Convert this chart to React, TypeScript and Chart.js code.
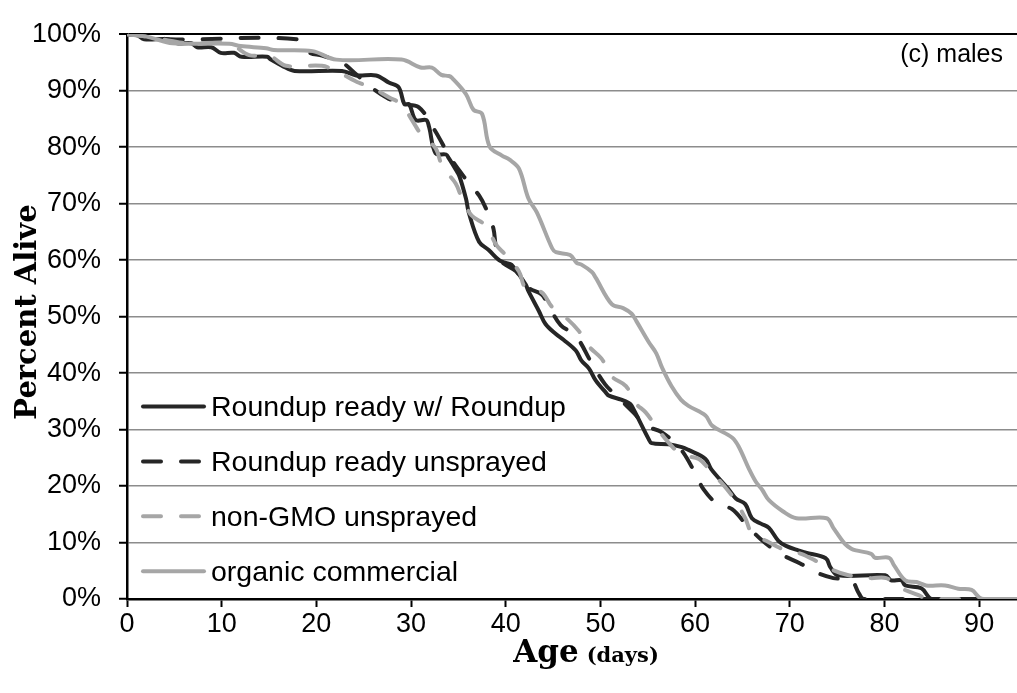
import React, { useEffect, useRef } from "react";
import { Chart, registerables } from "chart.js";

Chart.register(...registerables);

// ---- Data (day, percent alive) ----
const seriesNames = [
  "Roundup ready w/ Roundup",
  "Roundup ready unsprayed",
  "non-GMO unsprayed",
  "organic commercial",
];

const rrRoundup: [number, number][] = [
  [0, 100], [1.1, 99.8], [1.8, 99.1], [4.3, 99.1], [5.3, 98.4], [6.8, 98.4], [7.4, 97.7], [8.9, 97.7],
  [9.9, 96.7], [11.3, 96.7], [12.1, 96.0], [14.8, 96.0], [15.2, 95.5], [16.4, 94.4], [17.7, 93.5],
  [22.7, 93.5], [24.2, 92.7], [26.3, 92.7], [27.7, 91.4], [28.7, 90.6], [29.3, 87.6], [29.8, 87.6],
  [30.5, 84.8], [31.6, 84.8], [31.9, 83.6], [32.6, 78.9], [33.7, 78.7], [34.0, 78.0], [34.7, 76.1],
  [35.1, 74.9], [35.8, 70.9], [36.1, 68.4], [37.2, 63.2], [38.2, 61.8], [39.3, 60.0], [40.0, 59.5],
  [40.6, 59.2], [42.1, 55.7], [42.4, 54.5], [43.5, 51.0], [44.2, 48.7], [45.3, 46.9], [46.1, 45.9],
  [47.4, 44.0], [48.0, 42.2], [48.8, 40.8], [49.5, 38.7], [50.6, 36.5], [50.9, 36.0], [52.2, 35.3],
  [53.0, 34.7], [53.3, 34.2], [55.1, 28.3], [55.4, 27.6], [57.2, 27.4], [58.6, 26.9], [59.3, 26.4],
  [61.1, 24.8], [61.7, 23.0], [63.5, 19.5], [64.3, 17.8], [65.3, 16.8], [66.0, 14.3], [67.0, 13.3],
  [67.8, 12.6], [68.8, 10.3], [69.6, 9.4], [70.9, 8.6], [71.7, 8.2], [73.8, 7.2], [74.3, 5.6],
  [75.1, 4.2], [80.1, 4.2], [80.7, 3.3], [81.8, 3.3], [82.2, 2.4], [83.9, 1.9], [85.0, 0], [90, 0],
];

const rrUnsprayed: [number, number][] = [
  [0, 100], [2, 99.8], [4.5, 99.1], [17.9, 99.1], [19.2, 96.8], [20.6, 96.2], [22.7, 95], [24.2, 92.9],
  [25.8, 90.6], [27.4, 88.8], [29.0, 87.6], [30.8, 87.1], [32.5, 83], [34.2, 78], [35.8, 74.3],
  [37.2, 71.4], [38.0, 68.8], [38.7, 65.6], [39.0, 62.1], [39.6, 59.7], [41.1, 58], [42.4, 55.1],
  [43.8, 53.9], [44.6, 51.7], [45.8, 48.5], [47.4, 46.6], [49, 42], [50.5, 38], [52, 35.5], [53.5, 33],
  [54.8, 30.7], [56.5, 29.5], [58.5, 26.5], [60.1, 22], [60.9, 19.4], [62.3, 16.9], [63.9, 15.9],
  [65.5, 13], [67, 10.5], [69, 8], [71.1, 6.3], [72.8, 4.7], [74.6, 3.7], [76.5, 3.3], [77.3, 1],
  [77.8, 0], [90, 0],
];

const nonGmo: [number, number][] = [
  [0, 100], [2, 99.6], [4.7, 98.8], [6.3, 98.4], [10.8, 98.3], [12.9, 96.3], [15.0, 96.2], [16.8, 94.4],
  [20.6, 94.4], [22.4, 93.2], [24.5, 91.4], [25.8, 90.6], [27.7, 88.8], [29.0, 87.6], [30.1, 84.8],
  [31.1, 82.2], [32.6, 79.8], [33.3, 76.6], [34.7, 73.6], [35.4, 70.9], [36.4, 67.9], [37.9, 66.1],
  [39.0, 62.7], [40.0, 60.9], [41.4, 58.0], [42.1, 55.1], [43.8, 54.3], [44.9, 51.7], [46.3, 49.9],
  [47.7, 47.5], [48.8, 44.7], [50.1, 42.6], [51.2, 39.4], [52.7, 37.7], [53.7, 34.7], [54.8, 33],
  [56.1, 30], [57.2, 27.7], [58.6, 25.5], [60.4, 24.8], [61.7, 22.5], [63.0, 20.2], [64.3, 17.3],
  [65.3, 14.3], [66.0, 11.7], [67.5, 10.3], [69.6, 8.6], [71.2, 8], [72.7, 6.8], [74.6, 5.1],
  [76.2, 4.2], [78.5, 3.7], [80.2, 3.7], [81.8, 1.9], [83.6, 0.7], [84.5, 0], [90, 0],
];

const organic: [number, number][] = [
  [0, 100], [1.5, 99.7], [2.5, 99.4], [4.8, 98.4], [10.8, 98.3], [12.0, 97.9], [14.7, 97.5], [15.5, 97.2],
  [19.6, 97.0], [22.1, 95.5], [29.0, 95.5], [31, 94.1], [32.2, 94.1], [33.2, 92.8], [34.0, 92.6],
  [34.3, 92.3], [35.8, 89.4], [36.6, 86.6], [37.5, 85.9], [38.3, 80.1], [39.6, 78.5], [40.4, 77.8],
  [41.4, 76.2], [42.4, 70.9], [43.3, 68.4], [44.9, 62.1], [45.3, 61.4], [46.8, 60.9], [47.5, 59.5],
  [48.0, 59.2], [49.1, 57.9], [49.5, 56.9], [51.2, 52.2], [52.4, 51.5], [53.3, 50.5], [53.8, 49.2],
  [55.1, 45.5], [55.9, 43.5], [56.5, 41], [57.5, 37.7], [58.5, 35.3], [59.3, 34.2], [61.1, 32.5],
  [61.8, 30.7], [63.9, 28.6], [64.6, 27.0], [65.7, 23], [66.4, 20.8], [67.1, 19.3], [67.8, 17.5],
  [69.3, 15.5], [70.7, 14.3], [73.9, 14.3], [74.6, 12.6], [75.8, 9.8], [76.5, 8.9], [77, 8.6],
  [78.6, 8.0], [79.0, 7.3], [80.5, 7.3], [81, 6.0], [82.2, 3.3], [83.4, 3.0], [84.4, 2.4], [86.4, 2.4],
  [87.8, 1.8], [89.2, 1.6], [90, 0.3], [90.5, 0], [94, 0],
];

const xTickValues = [0, 10, 20, 30, 40, 50, 60, 70, 80, 90];
const yTickValues = [0, 10, 20, 30, 40, 50, 60, 70, 80, 90, 100];

// ---- Styles ----
const DARK = "#262626";
const LIGHT = "#A6A6A6";
const DASH = [18, 20];
const seriesStyles = [
  { color: DARK, dash: [] as number[] },
  { color: DARK, dash: DASH },
  { color: LIGHT, dash: DASH },
  { color: LIGHT, dash: [] as number[] },
];
const seriesData = [rrRoundup, rrUnsprayed, nonGmo, organic];

const SANS = '"Liberation Sans", Arial, sans-serif';

const overlayPlugin = {
  id: "overlay",
  afterDraw(chart: any) {
    const ctx: CanvasRenderingContext2D = chart.ctx;
    ctx.save();
    // Legend (inside plot, bottom-left)
    seriesNames.forEach((name, i) => {
      const y = 406.5 + i * 54.9;
      const st = seriesStyles[i];
      ctx.beginPath();
      ctx.setLineDash(st.dash);
      ctx.lineCap = "round";
      ctx.strokeStyle = st.color;
      ctx.lineWidth = 4;
      ctx.moveTo(143, y);
      ctx.lineTo(204, y);
      ctx.stroke();
      ctx.setLineDash([]);
      ctx.fillStyle = "#000";
      ctx.font = `28.5px ${SANS}`;
      ctx.textAlign = "left";
      ctx.textBaseline = "alphabetic";
      ctx.fillText(name, 211, y + 9.8);
    });

    // Panel annotation
    ctx.font = `25px ${SANS}`;
    ctx.textAlign = "right";
    ctx.fillStyle = "#000";
    ctx.fillText("(c) males", 1003, 62);

    // Y axis title
    ctx.save();
    ctx.translate(36, 312);
    ctx.rotate(-Math.PI / 2);
    ctx.font = 'bold 29px "DejaVu Serif", serif';
    ctx.textAlign = "center";
    ctx.textBaseline = "alphabetic";
    ctx.fillText("Percent Alive", 0, 0);
    ctx.restore();

    // X axis title
    const big = 'bold 31px "DejaVu Serif", serif';
    const small = 'bold 21px "DejaVu Serif", serif';
    ctx.font = big;
    const w1 = ctx.measureText("Age").width;
    ctx.font = small;
    const w2 = ctx.measureText("(days)").width;
    const gap = 8;
    const total = w1 + gap + w2;
    const cx = 586;
    const x0 = cx - total / 2;
    ctx.textAlign = "left";
    ctx.font = big;
    ctx.fillText("Age", x0, 662);
    ctx.font = small;
    ctx.fillText("(days)", x0 + w1 + gap, 662);
    ctx.restore();
  },
};

export default function App() {
  const ref = useRef<HTMLCanvasElement>(null);
  useEffect(() => {
    if (!ref.current) return;
    const chart = new Chart(ref.current, {
      type: "line",
      data: {
        datasets: seriesData.map((d, i) => ({
          label: seriesNames[i],
          data: d.map(([x, y]) => ({ x, y })),
          borderColor: seriesStyles[i].color,
          borderDash: seriesStyles[i].dash,
          borderWidth: 4,
          borderCapStyle: "round",
          borderJoinStyle: "round",
          tension: 0.35,
          pointRadius: 0,
          fill: false,
          order: 4 - i,
        })) as any,
      },
      options: {
        responsive: false,
        animation: false,
        events: [],
        layout: { padding: { top: 26, left: 0, right: 0, bottom: 0 } },
        plugins: { legend: { display: false }, tooltip: { enabled: false }, title: { display: false } },
        scales: {
          x: {
            type: "linear",
            min: 0,
            max: 94,
            afterFit: (s: any) => {
              s.height = 94;
            },
            afterBuildTicks: (s: any) => {
              s.ticks = xTickValues.map((v) => ({ value: v }));
            },
            ticks: {
              color: "#000",
              font: { family: SANS, size: 27 },
              padding: 1,
              maxRotation: 0,
              autoSkip: false,
            },
            grid: { drawOnChartArea: false, drawTicks: true, tickLength: 8, tickColor: "#000", tickWidth: 2 },
            border: { display: true, color: "#000", width: 2.5 },
          },
          y: {
            type: "linear",
            min: 0,
            max: 100,
            afterFit: (s: any) => {
              s.width = 127;
            },
            afterBuildTicks: (s: any) => {
              s.ticks = yTickValues.map((v) => ({ value: v }));
            },
            ticks: {
              color: "#000",
              font: { family: SANS, size: 27 },
              padding: 18,
              callback: (v: any) => `${v}%`,
            },
            grid: {
              color: (c: any) => (c.tick && c.tick.value === 100 ? "#000" : "#8c8c8c"),
              lineWidth: (c: any) => (c.tick && c.tick.value === 100 ? 2 : 1.5),
              tickLength: 8,
              tickColor: "#000",
              tickWidth: 2,
            },
            border: { display: true, color: "#000", width: 2.5 },
          },
        },
      },
      plugins: [overlayPlugin],
    });
    return () => chart.destroy();
  }, []);
  return (
    <div style={{ position: "fixed", left: 0, top: 0, width: 1017, height: 693, background: "#fff" }}>
      <canvas ref={ref} width={1017} height={693} style={{ display: "block" }} />
    </div>
  );
}
